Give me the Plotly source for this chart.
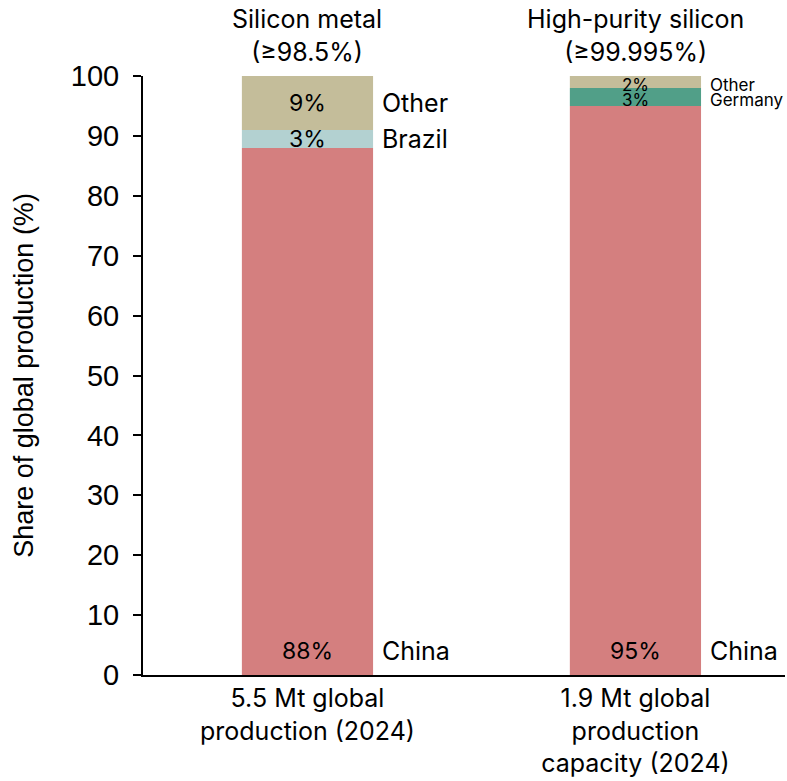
import plotly.graph_objects as go

# Two products, shares of global production by country (%)
products = ["Silicon metal<br>(≥98.5%)", "High-purity silicon<br>(≥99.995%)"]
volume_labels = ["5.5 Mt global<br>production (2024)",
                 "1.9 Mt global<br>production<br>capacity (2024)"]

# segments stacked bottom -> top for each product
silicon_metal_countries = ["China", "Brazil", "Other"]
silicon_metal_shares = [88, 3, 9]
silicon_metal_colors = ["#D47F7F", "#B3D1D1", "#C4BD9A"]

high_purity_countries = ["China", "Germany", "Other"]
high_purity_shares = [95, 3, 2]
high_purity_colors = ["#D47F7F", "#519F88", "#C4BD9A"]

AXIS_FONT = "Liberation Sans"
TEXT_FONT = "Inter"
BAR_W = 0.40

fig = go.Figure()

# (x position, countries, shares, colours, value size, name size, nudge) for the thin segments
groups = [
    (0, silicon_metal_countries, silicon_metal_shares, silicon_metal_colors, 23, 25, 0),
    (1, high_purity_countries, high_purity_shares, high_purity_colors, 17, 17, -3),
]

for xpos, countries, shares, colors, val_size, name_size, nudge in groups:
    base = 0
    for i, (name, val, col) in enumerate(zip(countries, shares, colors)):
        fig.add_trace(go.Bar(
            x=[xpos], y=[val], base=[base], width=BAR_W,
            marker=dict(color=col, line=dict(width=0)),
            showlegend=False, hoverinfo="skip",
        ))
        if i == 0:
            # largest segment: labels near the bottom of the bar
            ly = 4
            vs, ns, dy = 23, 25, 0
        else:
            ly = base + val / 2
            vs, ns, dy = val_size, name_size, nudge
        fig.add_annotation(x=xpos, y=ly, text=f"{val}%", showarrow=False,
                           font=dict(size=vs, color="black", family=TEXT_FONT),
                           xanchor="center", yanchor="middle", yshift=dy)
        fig.add_annotation(x=xpos + BAR_W / 2, y=ly, text=name, showarrow=False,
                           font=dict(size=ns, color="black", family=TEXT_FONT),
                           xanchor="left", yanchor="middle", xshift=7, yshift=dy)
        base += val

# product titles above each bar
for xpos, title in enumerate(products):
    fig.add_annotation(x=xpos, y=100, text=title, showarrow=False,
                       font=dict(size=25, color="black", family=TEXT_FONT),
                       xanchor="center", yanchor="bottom", yshift=7)

fig.update_layout(
    width=787, height=781,
    margin=dict(l=143, r=2, t=76, b=106),
    paper_bgcolor="white", plot_bgcolor="white",
    barmode="overlay",
    font=dict(family=AXIS_FONT, color="black"),
    xaxis=dict(
        range=[-0.5015, 1.456], tickvals=[0, 1], ticktext=volume_labels,
        showline=True, linecolor="black", linewidth=2, ticks="",
        showgrid=False, zeroline=False,
        tickfont=dict(size=25, family=TEXT_FONT, color="black"),
    ),
    yaxis=dict(
        range=[0, 100], dtick=10, showline=True, linecolor="black", linewidth=2,
        ticks="outside", ticklen=8, tickwidth=2, tickcolor="black",
        ticklabelstandoff=8,
        showgrid=False, zeroline=False,
        tickfont=dict(size=29, family=AXIS_FONT, color="black"),
        title=dict(text="Share of global production (%)",
                   font=dict(size=27, family=AXIS_FONT, color="black"), standoff=29),
    ),
)

fig.write_html("out.html")
